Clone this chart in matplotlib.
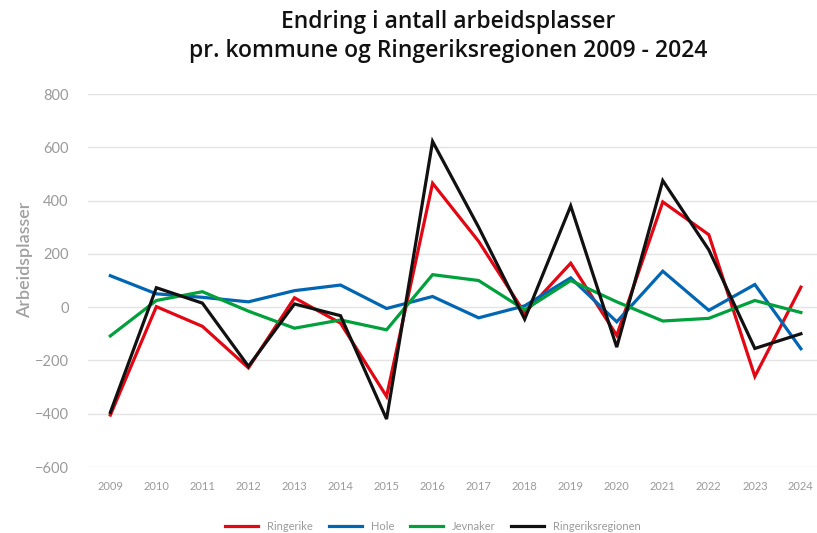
"""Endring i antall arbeidsplasser, Ringeriksregionen 2009-2024."""

import matplotlib
matplotlib.use("Agg")
import matplotlib.pyplot as plt

plt.rcParams["font.family"] = ["Lato", "DejaVu Sans"]

years = list(range(2009, 2025))
ringerike = [-405, 2, -72, -228, 35, -60, -335, 465, 247, -22, 165, -106, 395, 272, -260, 75]
hole = [118, 50, 37, 20, 62, 83, -5, 40, -40, 5, 110, -55, 135, -12, 85, -156]
jevnaker = [-108, 25, 58, -15, -79, -48, -85, 122, 100, -10, 100, 20, -52, -42, 25, -20]
regionen = [-395, 73, 15, -222, 12, -32, -420, 622, 300, -45, 380, -150, 475, 215, -155, -100]

series = [
    ("Ringerike", ringerike, "#e30613"),
    ("Hole", hole, "#0066b3"),
    ("Jevnaker", jevnaker, "#00a03c"),
    ("Ringeriksregionen", regionen, "#111111"),
]

fig = plt.figure(figsize=(8.17, 5.33), dpi=100)
ax = fig.add_axes([0.108, 0.1238, 0.892, 0.6998])

for name, vals, col in series:
    ax.plot(years, vals, color=col, lw=2.3, label=name, solid_joinstyle="miter")

ax.set_ylim(-600, 800)
ax.set_xlim(2008.52, 2024.35)
ax.set_yticks(range(-600, 801, 200))
ax.set_xticks(years)
ax.grid(axis="y", color="#e3e3e3", lw=1.0)
ax.set_axisbelow(True)
for s in ax.spines.values():
    s.set_visible(False)
ax.tick_params(axis="y", length=0, pad=14, labelsize=10.5, labelcolor="#9a9a9a")
ax.tick_params(axis="x", length=0, pad=10, labelsize=8, labelcolor="#9a9a9a")

fig.text(0.031, 0.512, "Arbeidsplasser", rotation=90, ha="center", va="center",
         fontsize=13, weight="semibold", color="#a0a0a0")

title_font = ["Open Sans", "DejaVu Sans"]
fig.text(0.548, 0.958, "Endring i antall arbeidsplasser", ha="center", va="center",
         fontsize=16.5, weight="semibold", color="#111111", family=title_font)
fig.text(0.548, 0.905, "pr. kommune og Ringeriksregionen 2009 - 2024", ha="center",
         va="center", fontsize=16.5, weight="semibold", color="#111111", family=title_font)

leg = fig.legend(loc="center", bbox_to_anchor=(0.530, 0.012), ncol=4, frameon=False,
                 fontsize=8, handlelength=3.0, columnspacing=1.4, handletextpad=0.8)
for t in leg.get_texts():
    t.set_color("#9a9a9a")

fig.savefig("out.png", dpi=100)
